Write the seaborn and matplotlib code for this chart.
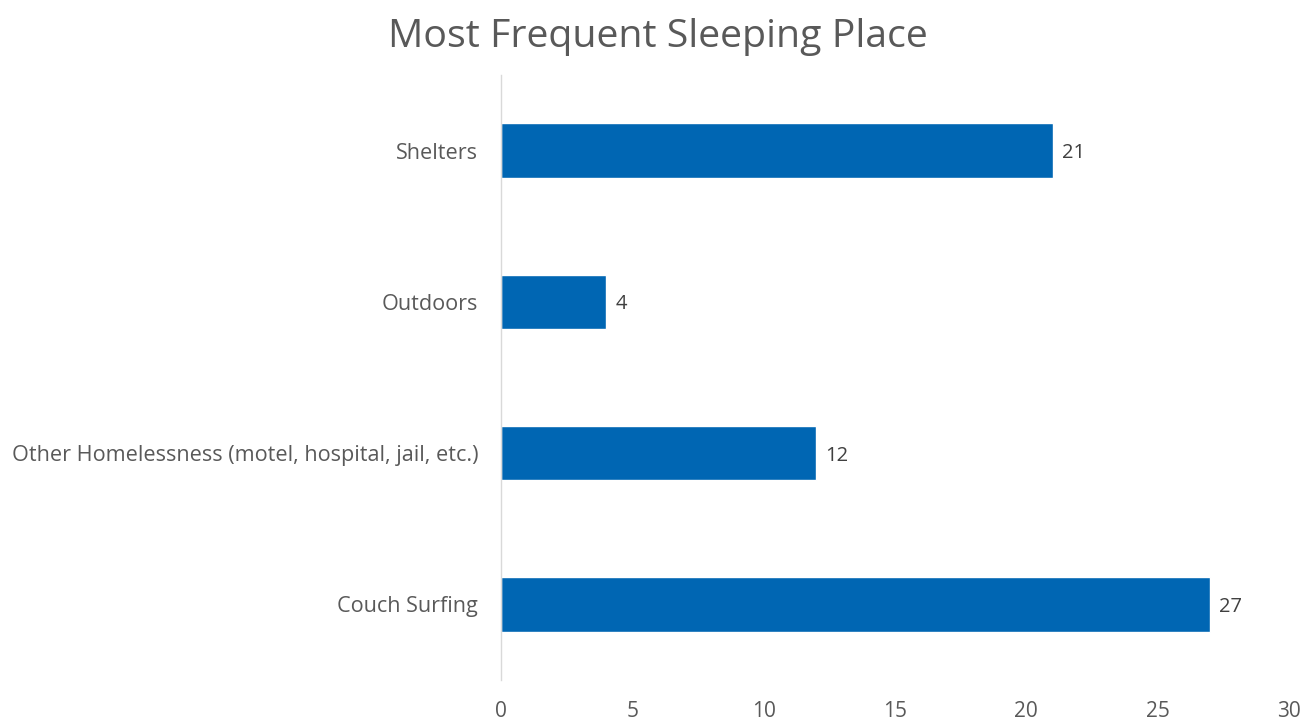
import matplotlib
matplotlib.use("Agg")
import matplotlib.pyplot as plt
import seaborn as sns
import pandas as pd

categories = ["Shelters", "Outdoors", "Other Homelessness (motel, hospital, jail, etc.)", "Couch Surfing"]
counts = [21, 4, 12, 27]
x_ticks = [0, 5, 10, 15, 20, 25, 30]

bar_color = "#0066B3"
text_gray = "#595959"

sns.set_theme(style="white")
plt.rcParams["font.family"] = ["Open Sans", "DejaVu Sans"]

df = pd.DataFrame({"place": categories, "count": counts})

fig = plt.figure(figsize=(13.03, 7.22), dpi=100)
ax = fig.add_axes([501 / 1303, 42 / 722, (1289 - 501) / 1303, (680 - 75) / 722])

sns.barplot(data=df, y="place", x="count", orient="h", color=bar_color,
            width=0.36, saturation=1, ax=ax)

# value labels right of each bar
for i, v in enumerate(counts):
    ax.text(v + 0.35, i, str(v), va="center_baseline", ha="left", fontsize=14.5, color="#404040")

ax.set_xlim(0, 30)
ax.set_ylim(3.5, -0.5)
ax.set_xticks(x_ticks)
ax.set_xlabel("")
ax.set_ylabel("")
ax.tick_params(axis="x", labelsize=15, colors=text_gray, length=0, pad=15)
ax.tick_params(axis="y", labelsize=15.6, colors=text_gray, length=0, pad=16.5)

for s in ["top", "right", "bottom"]:
    ax.spines[s].set_visible(False)
ax.spines["left"].set_color("#D9D9D9")
ax.spines["left"].set_linewidth(1)

fig.text(658 / 1303, 1 - 37 / 722, "Most Frequent Sleeping Place", ha="center", va="center",
         fontsize=28.3, color=text_gray)

fig.savefig("out.png", dpi=100)
